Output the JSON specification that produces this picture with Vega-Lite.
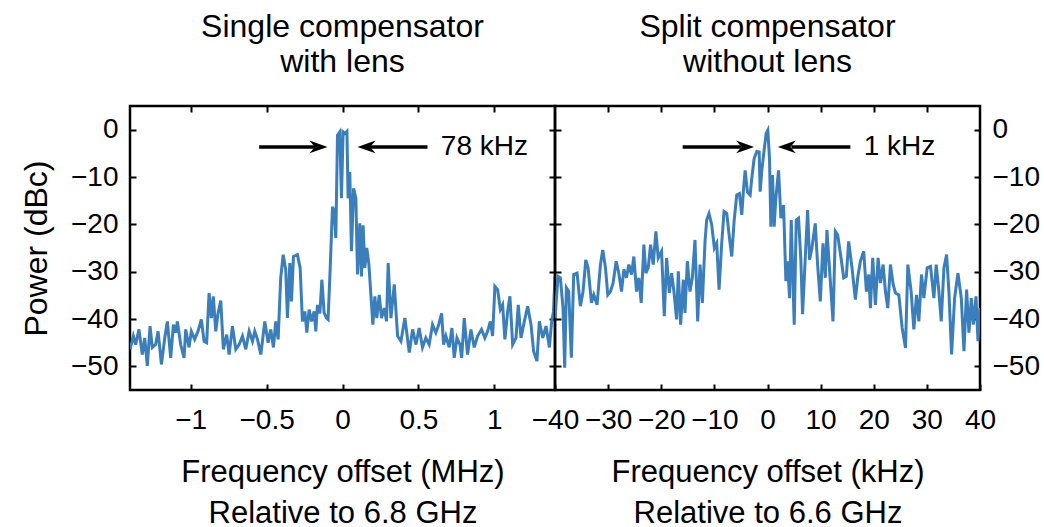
{
  "$schema": "https://vega.github.io/schema/vega-lite/v6.json",
  "padding": {"left": 19, "top": 9, "right": 0, "bottom": 0},
  "background": "white",
  "config": {
    "font": "Liberation Sans",
    "view": {"stroke": "black", "strokeWidth": 2.5},
    "axis": {"grid": false, "domain": false, "tickColor": "black", "tickWidth": 2, "tickSize": -6, "labelColor": "black", "labelFontSize": 28, "labelPadding": 18, "titleColor": "black", "titleFontSize": 31, "titleFontWeight": "normal", "labelOverlap": false, "labelFlush": false, "labelBound": false, "format": ".2~f"},
    "title": {"fontSize": 32, "fontWeight": "normal", "color": "black", "lineHeight": 35, "anchor": "middle", "frame": "group", "baseline": "bottom", "offset": 26}
  },
  "datasets": {
    "left": [
      {"f":-1.4,"p":-46.4},{"f":-1.378,"p":-43.6},{"f":-1.363,"p":-45.4},{"f":-1.341,"p":-42.2},{"f":-1.319,"p":-47.5},{"f":-1.303,"p":-44},{"f":-1.286,"p":-49.9},{"f":-1.268,"p":-41.5},{"f":-1.253,"p":-46},{"f":-1.231,"p":-45.4},{"f":-1.215,"p":-42.6},{"f":-1.193,"p":-49.6},{"f":-1.171,"p":-44},{"f":-1.154,"p":-40.5},{"f":-1.132,"p":-48.2},{"f":-1.114,"p":-41.2},{"f":-1.099,"p":-42.9},{"f":-1.088,"p":-40.5},{"f":-1.066,"p":-45.4},{"f":-1.044,"p":-48.2},{"f":-1.033,"p":-42.2},{"f":-1.011,"p":-46},{"f":-0.996,"p":-42.6},{"f":-0.974,"p":-44.3},{"f":-0.952,"p":-42.6},{"f":-0.93,"p":-40.1},{"f":-0.912,"p":-44.7},{"f":-0.895,"p":-45},{"f":-0.879,"p":-34.5},{"f":-0.864,"p":-39.8},{"f":-0.851,"p":-35.2},{"f":-0.835,"p":-42.6},{"f":-0.82,"p":-38.8},{"f":-0.802,"p":-36.1},{"f":-0.785,"p":-46.4},{"f":-0.763,"p":-43.3},{"f":-0.747,"p":-47.5},{"f":-0.725,"p":-41.5},{"f":-0.703,"p":-46.4},{"f":-0.681,"p":-45.4},{"f":-0.659,"p":-43.6},{"f":-0.637,"p":-46.4},{"f":-0.615,"p":-42.6},{"f":-0.593,"p":-44.7},{"f":-0.578,"p":-42.6},{"f":-0.56,"p":-44.3},{"f":-0.538,"p":-47.5},{"f":-0.512,"p":-40.5},{"f":-0.49,"p":-45},{"f":-0.473,"p":-42.2},{"f":-0.455,"p":-46},{"f":-0.44,"p":-40.5},{"f":-0.424,"p":-44.3},{"f":-0.407,"p":-31.3},{"f":-0.391,"p":-26.4},{"f":-0.374,"p":-29.6},{"f":-0.363,"p":-39.8},{"f":-0.347,"p":-28.2},{"f":-0.336,"p":-36.3},{"f":-0.323,"p":-26.8},{"f":-0.297,"p":-26.4},{"f":-0.279,"p":-29.2},{"f":-0.264,"p":-40.5},{"f":-0.248,"p":-38.4},{"f":-0.235,"p":-42.9},{"f":-0.22,"p":-38},{"f":-0.204,"p":-40.5},{"f":-0.187,"p":-38.4},{"f":-0.176,"p":-42.6},{"f":-0.165,"p":-37},{"f":-0.149,"p":-38.8},{"f":-0.136,"p":-31.7},{"f":-0.121,"p":-38.7},{"f":-0.105,"p":-39.8},{"f":-0.095,"p":-40.1},{"f":-0.081,"p":-29.2},{"f":-0.066,"p":-16.3},{"f":-0.055,"p":-17.3},{"f":-0.044,"p":-22.9},{"f":-0.033,"p":-1.2},{"f":-0.018,"p":-0.5},{"f":-0.007,"p":-14.5},{"f":0.004,"p":-0.5},{"f":0.015,"p":-0.8},{"f":0.029,"p":-0.35},{"f":0.037,"p":-14.5},{"f":0.048,"p":-8.9},{"f":0.059,"p":-25.7},{"f":0.073,"p":-12.4},{"f":0.088,"p":-14.5},{"f":0.099,"p":-30.6},{"f":0.114,"p":-19.8},{"f":0.125,"p":-31},{"f":0.136,"p":-20.2},{"f":0.147,"p":-29.2},{"f":0.16,"p":-25},{"f":0.174,"p":-28.5},{"f":0.187,"p":-34.9},{"f":0.2,"p":-41.2},{"f":0.213,"p":-35.2},{"f":0.226,"p":-39.8},{"f":0.242,"p":-34.9},{"f":0.257,"p":-39.8},{"f":0.275,"p":-37.7},{"f":0.29,"p":-40.5},{"f":0.301,"p":-28.2},{"f":0.319,"p":-39.8},{"f":0.341,"p":-32.7},{"f":0.363,"p":-43.6},{"f":0.385,"p":-44.7},{"f":0.411,"p":-39.8},{"f":0.44,"p":-47.1},{"f":0.462,"p":-42.2},{"f":0.484,"p":-45.4},{"f":0.505,"p":-41.9},{"f":0.527,"p":-46},{"f":0.549,"p":-44},{"f":0.571,"p":-45.4},{"f":0.593,"p":-41.2},{"f":0.615,"p":-42.9},{"f":0.631,"p":-41.5},{"f":0.653,"p":-38.8},{"f":0.666,"p":-45.4},{"f":0.681,"p":-43.6},{"f":0.703,"p":-46},{"f":0.721,"p":-41.9},{"f":0.736,"p":-48.2},{"f":0.754,"p":-44},{"f":0.774,"p":-45.4},{"f":0.785,"p":-48.2},{"f":0.802,"p":-39.8},{"f":0.824,"p":-47.5},{"f":0.846,"p":-42.2},{"f":0.868,"p":-46},{"f":0.89,"p":-43.6},{"f":0.916,"p":-42.2},{"f":0.938,"p":-44},{"f":0.956,"p":-42.6},{"f":0.974,"p":-40.5},{"f":0.989,"p":-43.6},{"f":1.004,"p":-33.1},{"f":1.022,"p":-33.8},{"f":1.04,"p":-38},{"f":1.055,"p":-37},{"f":1.07,"p":-44.3},{"f":1.088,"p":-38.4},{"f":1.103,"p":-35.2},{"f":1.121,"p":-45.4},{"f":1.143,"p":-44},{"f":1.158,"p":-37},{"f":1.176,"p":-44},{"f":1.198,"p":-40.5},{"f":1.22,"p":-37.3},{"f":1.242,"p":-41.2},{"f":1.259,"p":-46.8},{"f":1.281,"p":-48.9},{"f":1.297,"p":-40.5},{"f":1.319,"p":-44},{"f":1.341,"p":-41.5},{"f":1.363,"p":-46},{"f":1.378,"p":-40.5},{"f":1.39,"p":-38.4},{"f":1.4,"p":-31}
    ],
    "right": [
      {"f":-40,"p":-39.8},{"f":-39.43,"p":-31},{"f":-38.99,"p":-31.3},{"f":-38.49,"p":-37.7},{"f":-38.18,"p":-50.3},{"f":-37.86,"p":-33.4},{"f":-37.42,"p":-34.2},{"f":-36.92,"p":-48.2},{"f":-36.48,"p":-30.6},{"f":-35.85,"p":-30.3},{"f":-35.22,"p":-37.3},{"f":-34.72,"p":-34.2},{"f":-34.21,"p":-27.5},{"f":-33.77,"p":-29.2},{"f":-33.14,"p":-36.6},{"f":-32.7,"p":-34.9},{"f":-32.08,"p":-37},{"f":-31.45,"p":-28.5},{"f":-31.01,"p":-25.4},{"f":-30.5,"p":-29.2},{"f":-30.06,"p":-34.9},{"f":-29.56,"p":-34.2},{"f":-29.06,"p":-32.4},{"f":-28.49,"p":-27.8},{"f":-27.99,"p":-30.3},{"f":-27.48,"p":-34.2},{"f":-27.04,"p":-29.5},{"f":-26.54,"p":-31.3},{"f":-26.1,"p":-28.5},{"f":-25.6,"p":-30.6},{"f":-25.16,"p":-26.8},{"f":-24.65,"p":-34.2},{"f":-24.21,"p":-31.3},{"f":-23.77,"p":-36.6},{"f":-23.27,"p":-24.3},{"f":-22.89,"p":-30.3},{"f":-22.45,"p":-29.2},{"f":-22.01,"p":-24.3},{"f":-21.51,"p":-28.5},{"f":-21.01,"p":-21.5},{"f":-20.57,"p":-27.1},{"f":-19.94,"p":-25.7},{"f":-19.43,"p":-39.4},{"f":-18.99,"p":-27.1},{"f":-18.49,"p":-34.5},{"f":-18.05,"p":-30.3},{"f":-17.61,"p":-34.2},{"f":-17.11,"p":-40.1},{"f":-16.79,"p":-29.9},{"f":-16.35,"p":-41.2},{"f":-15.85,"p":-31.7},{"f":-15.53,"p":-38.7},{"f":-15.09,"p":-27.8},{"f":-14.59,"p":-34.2},{"f":-14.15,"p":-31.3},{"f":-13.65,"p":-23.3},{"f":-13.14,"p":-40.5},{"f":-12.7,"p":-28.5},{"f":-12.26,"p":-36.6},{"f":-11.76,"p":-23.6},{"f":-11.45,"p":-19.1},{"f":-11.01,"p":-17.7},{"f":-10.5,"p":-20.1},{"f":-10,"p":-25},{"f":-9.56,"p":-24},{"f":-9.12,"p":-33.8},{"f":-8.62,"p":-24},{"f":-8.18,"p":-17.3},{"f":-7.67,"p":-17.7},{"f":-7.23,"p":-22.2},{"f":-6.73,"p":-26.8},{"f":-6.29,"p":-19.4},{"f":-5.79,"p":-13.8},{"f":-5.28,"p":-13.5},{"f":-4.84,"p":-18},{"f":-4.53,"p":-12.8},{"f":-4.21,"p":-8.6},{"f":-3.77,"p":-13.2},{"f":-3.27,"p":-13.8},{"f":-2.96,"p":-10.3},{"f":-2.52,"p":-6.1},{"f":-2.01,"p":-4.6},{"f":-1.57,"p":-4.7},{"f":-1.38,"p":-13.1},{"f":-1.07,"p":-8.6},{"f":-0.63,"p":-4.3},{"f":-0.25,"p":-0.8},{"f":0.06,"p":-0.1},{"f":0.38,"p":-6.1},{"f":0.63,"p":-20.5},{"f":0.94,"p":-9.6},{"f":1.26,"p":-20.5},{"f":1.57,"p":-14.5},{"f":2.08,"p":-8.6},{"f":2.52,"p":-18.7},{"f":3.02,"p":-15.9},{"f":3.46,"p":-32},{"f":3.77,"p":-27.8},{"f":4.15,"p":-35.6},{"f":4.47,"p":-19.1},{"f":5.03,"p":-41.2},{"f":5.41,"p":-19.1},{"f":5.85,"p":-18.7},{"f":6.29,"p":-27.8},{"f":6.6,"p":-39},{"f":7.11,"p":-27.1},{"f":7.55,"p":-17},{"f":7.92,"p":-27.5},{"f":8.36,"p":-25},{"f":8.99,"p":-19.8},{"f":9.43,"p":-28.5},{"f":9.94,"p":-36.3},{"f":10.44,"p":-24},{"f":10.88,"p":-31.3},{"f":11.19,"p":-21.2},{"f":11.7,"p":-29.9},{"f":12.33,"p":-40.5},{"f":12.77,"p":-21.5},{"f":13.21,"p":-22.2},{"f":13.84,"p":-27.1},{"f":14.34,"p":-31.3},{"f":14.84,"p":-31},{"f":15.28,"p":-23.6},{"f":15.91,"p":-29.2},{"f":16.54,"p":-35.9},{"f":16.98,"p":-31.3},{"f":17.48,"p":-27.8},{"f":18.11,"p":-25.7},{"f":18.62,"p":-34.2},{"f":19.06,"p":-30.6},{"f":19.37,"p":-37.7},{"f":19.81,"p":-27.1},{"f":20.31,"p":-37},{"f":20.82,"p":-27.1},{"f":21.26,"p":-32.4},{"f":21.76,"p":-28.5},{"f":22.2,"p":-34.2},{"f":22.64,"p":-37.7},{"f":23.14,"p":-28.5},{"f":23.65,"p":-32.7},{"f":24.09,"p":-34.5},{"f":24.72,"p":-34.9},{"f":25.35,"p":-41.9},{"f":25.97,"p":-46.1},{"f":26.42,"p":-28.5},{"f":27.04,"p":-34.2},{"f":27.55,"p":-42.2},{"f":28.05,"p":-34.9},{"f":28.49,"p":-40.5},{"f":28.99,"p":-30.6},{"f":29.43,"p":-35.6},{"f":30.06,"p":-29.2},{"f":30.69,"p":-28.9},{"f":31.32,"p":-35.6},{"f":31.76,"p":-28.5},{"f":32.26,"p":-34.2},{"f":32.7,"p":-40.5},{"f":33.21,"p":-29.2},{"f":33.71,"p":-26.4},{"f":34.15,"p":-34.2},{"f":34.65,"p":-47.5},{"f":35.22,"p":-35.6},{"f":35.85,"p":-30.3},{"f":36.48,"p":-35.6},{"f":36.98,"p":-46.8},{"f":37.48,"p":-33.8},{"f":37.92,"p":-42.9},{"f":38.36,"p":-35.6},{"f":38.74,"p":-41.2},{"f":39.25,"p":-35.2},{"f":39.62,"p":-44.7},{"f":40,"p":-37.7}
    ],
    "arrL": [
      {"x1": -0.549, "x2": -0.16, "tip": -0.099, "y": -3.64, "dir": "right"},
      {"x1": 0.56, "x2": 0.16, "tip": 0.099, "y": -3.64, "dir": "left"}
    ],
    "arrR": [
      {"x1": -15.97, "x2": -5.0, "tip": -2.52, "y": -3.64, "dir": "right"},
      {"x1": 15.6, "x2": 4.5, "tip": 1.95, "y": -3.64, "dir": "left"}
    ],
    "labL": [{"x": 0.648, "y": -3.64, "t": "78 kHz"}],
    "labR": [{"x": 18.1, "y": -3.64, "t": "1 kHz"}]
  },
  "bounds": "flush",
  "spacing": 0,
  "hconcat": [
    {
      "width": 425,
      "height": 284,
      "title": {"text": ["Single compensator", "with lens"]},
      "resolve": {"axis": {"x": "independent", "y": "independent"}},
      "layer": [
        {
          "data": {"name": "left"},
          "mark": {"type": "line", "color": "#3a7ebb", "strokeWidth": 3, "clip": true},
          "encoding": {
            "x": {"field": "f", "type": "quantitative", "scale": {"domain": [-1.4, 1.4], "nice": false, "zero": false},
              "axis": {"orient": "bottom", "values": [-1, -0.5, 0, 0.5, 1], "title": ["Frequency offset (MHz)", "Relative to 6.8 GHz"], "titleLineHeight": 41, "labelPadding": 22, "titlePadding": 23}},
            "y": {"field": "p", "type": "quantitative", "scale": {"domain": [-55, 5], "nice": false, "zero": false},
              "axis": {"orient": "left", "values": [0, -10, -20, -30, -40, -50], "title": "Power (dBc)", "titleFontSize": 32, "titlePadding": 17}}
          }
        },
        {
          "data": {"name": "arrL"},
          "mark": {"type": "rule", "strokeWidth": 3.5, "color": "black"},
          "encoding": {
            "x": {"field": "x1", "type": "quantitative", "axis": {"orient": "top", "values": [-1, -0.5, 0, 0.5, 1], "labels": false, "title": null, "minExtent": 0, "maxExtent": 0}},
            "x2": {"field": "x2"},
            "y": {"field": "y", "type": "quantitative", "axis": {"orient": "right", "values": [0, -10, -20, -30, -40, -50], "labels": false, "title": null, "minExtent": 0, "maxExtent": 0}}
          }
        },
        {
          "data": {"name": "arrL"},
          "mark": {"type": "point", "filled": true, "color": "black", "opacity": 1, "size": 324, "strokeWidth": 0},
          "encoding": {
            "x": {"field": "tip", "type": "quantitative", "axis": null},
            "y": {"field": "y", "type": "quantitative", "axis": null},
            "shape": {"field": "dir", "type": "nominal", "scale": {"domain": ["right", "left"], "range": ["M0,0L-2,-0.7L-1.4,0L-2,0.7Z", "M0,0L2,-0.7L1.4,0L2,0.7Z"]}, "legend": null}
          }
        },
        {
          "data": {"name": "labL"},
          "mark": {"type": "text", "align": "left", "baseline": "middle", "fontSize": 28, "color": "black"},
          "encoding": {
            "x": {"field": "x", "type": "quantitative", "axis": null},
            "y": {"field": "y", "type": "quantitative", "axis": null},
            "text": {"field": "t"}
          }
        }
      ]
    },
    {
      "width": 425,
      "height": 284,
      "title": {"text": ["Split compensator", "without lens"]},
      "resolve": {"axis": {"x": "independent", "y": "independent"}},
      "layer": [
        {
          "data": {"name": "right"},
          "mark": {"type": "line", "color": "#3a7ebb", "strokeWidth": 3, "clip": true},
          "encoding": {
            "x": {"field": "f", "type": "quantitative", "scale": {"domain": [-40, 40], "nice": false, "zero": false},
              "axis": {"orient": "bottom", "values": [-40, -30, -20, -10, 0, 10, 20, 30, 40], "title": ["Frequency offset (kHz)", "Relative to 6.6 GHz"], "titleLineHeight": 41, "labelPadding": 22, "titlePadding": 23}},
            "y": {"field": "p", "type": "quantitative", "scale": {"domain": [-55, 5], "nice": false, "zero": false},
              "axis": {"orient": "left", "values": [0, -10, -20, -30, -40, -50], "labels": false, "title": null, "minExtent": 0, "maxExtent": 0}}
          }
        },
        {
          "data": {"name": "arrR"},
          "mark": {"type": "rule", "strokeWidth": 3.5, "color": "black"},
          "encoding": {
            "x": {"field": "x1", "type": "quantitative", "axis": {"orient": "top", "values": [-30, -20, -10, 0, 10, 20, 30], "labels": false, "title": null, "minExtent": 0, "maxExtent": 0}},
            "x2": {"field": "x2"},
            "y": {"field": "y", "type": "quantitative", "axis": {"orient": "right", "values": [0, -10, -20, -30, -40, -50], "title": null}}
          }
        },
        {
          "data": {"name": "arrR"},
          "mark": {"type": "point", "filled": true, "color": "black", "opacity": 1, "size": 324, "strokeWidth": 0},
          "encoding": {
            "x": {"field": "tip", "type": "quantitative", "axis": null},
            "y": {"field": "y", "type": "quantitative", "axis": null},
            "shape": {"field": "dir", "type": "nominal", "scale": {"domain": ["right", "left"], "range": ["M0,0L-2,-0.7L-1.4,0L-2,0.7Z", "M0,0L2,-0.7L1.4,0L2,0.7Z"]}, "legend": null}
          }
        },
        {
          "data": {"name": "labR"},
          "mark": {"type": "text", "align": "left", "baseline": "middle", "fontSize": 28, "color": "black"},
          "encoding": {
            "x": {"field": "x", "type": "quantitative", "axis": null},
            "y": {"field": "y", "type": "quantitative", "axis": null},
            "text": {"field": "t"}
          }
        }
      ]
    }
  ]
}
